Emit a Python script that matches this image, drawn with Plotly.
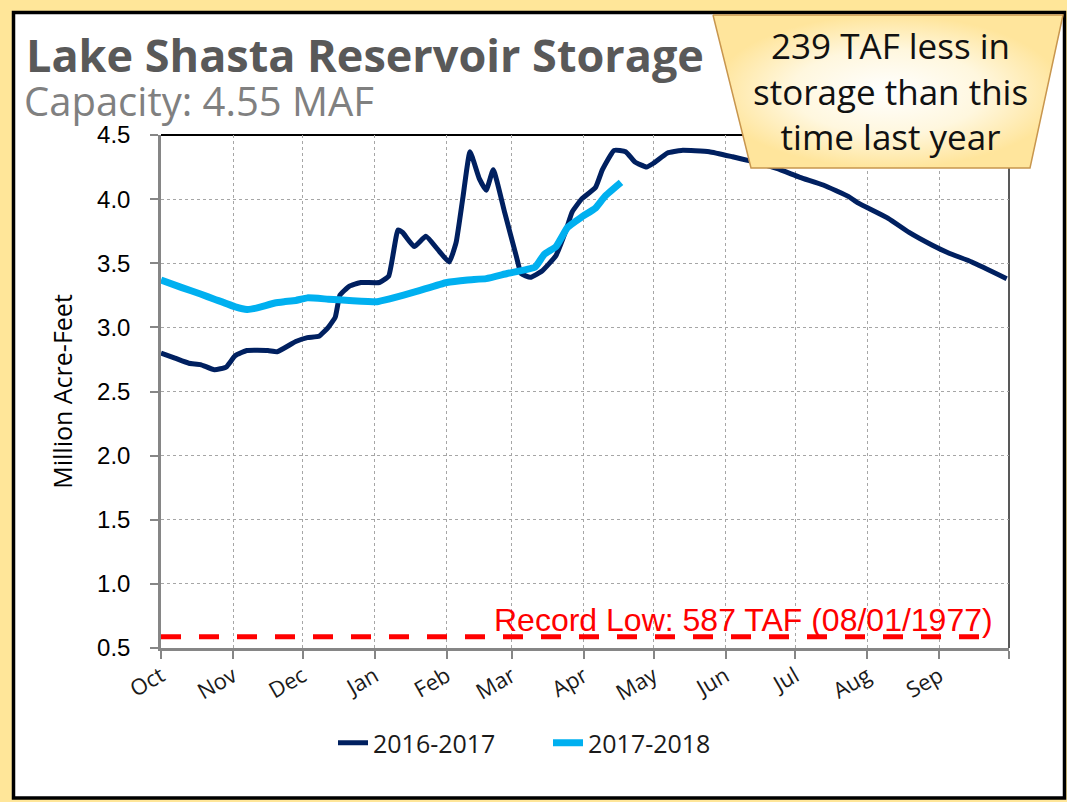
import plotly.graph_objects as go

W, H = 1067, 802

# ---------------- text ----------------
TITLE = "Lake Shasta Reservoir Storage"
SUBTITLE = "Capacity: 4.55 MAF"
CALLOUT = "239 TAF less in<br>storage than this<br>time last year"
Y_TITLE = "Million Acre-Feet"
RECORD_LOW_LABEL = "Record Low: 587 TAF (08/01/1977)"

# ---------------- data ----------------
MONTH_TICKS = ["10-01", "11-01", "12-01", "01-01", "02-01", "03-01",
               "04-01", "05-01", "06-01", "07-01", "08-01", "09-01"]
MONTH_LABELS = ["Oct", "Nov", "Dec", "Jan", "Feb", "Mar",
                "Apr", "May", "Jun", "Jul", "Aug", "Sep"]

RECORD_LOW = 0.587          # MAF
RECORD_LOW_SPAN = ["10-01", "09-24"]

WY1617_DAYS = ["10-01", "10-07", "10-13", "10-18", "10-24", "10-29", "11-02", "11-07",
               "11-16", "11-20", "11-28", "12-03", "12-08", "12-12", "12-15", "12-17",
               "12-21", "12-26", "01-03", "01-07", "01-11", "01-13", "01-18", "01-23",
               "01-28", "02-02", "02-05", "02-08", "02-11", "02-15", "02-18", "02-21",
               "02-26", "03-03", "03-05", "03-09", "03-14", "03-20", "03-24", "03-27",
               "03-31", "04-06", "04-09", "04-14", "04-19", "04-23", "04-28", "05-01",
               "05-07", "05-13", "05-25", "06-04", "06-11", "06-23", "07-03", "07-13",
               "07-24", "07-28", "08-10", "08-19", "08-29", "09-05", "09-15", "09-30"]
WY1617_MAF = [2.80, 2.76, 2.72, 2.71, 2.67, 2.69, 2.78, 2.82,
              2.82, 2.81, 2.89, 2.92, 2.93, 3.00, 3.08, 3.25,
              3.32, 3.35, 3.35, 3.40, 3.76, 3.74, 3.63, 3.71,
              3.61, 3.51, 3.66, 4.02, 4.37, 4.16, 4.07, 4.23,
              3.89, 3.55, 3.42, 3.39, 3.44, 3.56, 3.74, 3.90,
              4.00, 4.09, 4.23, 4.38, 4.37, 4.29, 4.25, 4.28,
              4.36, 4.38, 4.37, 4.33, 4.30, 4.24, 4.17, 4.11,
              4.02, 3.97, 3.85, 3.74, 3.64, 3.58, 3.51, 3.38]

WY1718_DAYS = ["10-01", "10-10", "10-18", "10-24", "11-02", "11-07", "11-11", "11-19",
               "11-23", "11-28", "12-03", "12-12", "12-21", "01-02", "01-07", "01-19",
               "02-01", "02-10", "02-18", "02-27", "03-11", "03-15", "03-20", "03-25",
               "03-31", "04-06", "04-10", "04-17"]
WY1718_MAF = [3.37, 3.31, 3.26, 3.22, 3.16, 3.14, 3.15, 3.19,
              3.20, 3.21, 3.23, 3.22, 3.21, 3.20, 3.22, 3.28,
              3.35, 3.37, 3.38, 3.42, 3.47, 3.57, 3.63, 3.78,
              3.86, 3.93, 4.02, 4.13]

SERIES_NAMES = ["2016-2017", "2017-2018"]
SERIES_COLORS = ["#002060", "#00B0F0"]


def wy_date(md):
    """Place a month-day on a common water-year axis (Oct..Sep)."""
    year = 2016 if int(md[:2]) >= 10 else 2017
    return f"{year}-{md}"


def fx(px):
    return px / W


def fy(py):
    return 1 - py / H


GOTHIC = "Open Sans"
SANS = "Liberation Sans"

fig = go.Figure()

# record low dashed line
fig.add_trace(go.Scatter(
    x=[wy_date(d) for d in RECORD_LOW_SPAN], y=[RECORD_LOW] * 2,
    mode="lines", line=dict(color="#FF0000", width=5, dash="20px,18px"),
    showlegend=False, hoverinfo="skip"))

fig.add_trace(go.Scatter(
    x=[wy_date(d) for d in WY1617_DAYS], y=WY1617_MAF, name=SERIES_NAMES[0],
    mode="lines", line=dict(color=SERIES_COLORS[0], width=5, shape="spline", smoothing=0.4)))

fig.add_trace(go.Scatter(
    x=[wy_date(d) for d in WY1718_DAYS], y=WY1718_MAF, name=SERIES_NAMES[1],
    mode="lines", line=dict(color=SERIES_COLORS[1], width=7, shape="spline", smoothing=0.4)))

# callout box (on a full-figure overlay axis so it can sit over the plot border)
fig.add_trace(go.Scatter(
    x=[713, 1063, 1030, 751, 713], y=[15, 15, 168, 168, 15],
    xaxis="x2", yaxis="y2", mode="lines", fill="toself",
    fillgradient=dict(type="radial",
                      colorscale=[[0, "#FFFFFF"], [0.55, "#FFF7DE"], [1, "#FFE59C"]]),
    line=dict(color="#C8964E", width=1.5),
    showlegend=False, hoverinfo="skip"))

tickvals = [wy_date(d) for d in MONTH_TICKS] + ["2017-10-01"]
ticktext = MONTH_LABELS + [""]

fig.update_layout(
    width=W, height=H,
    margin=dict(l=0, r=0, t=0, b=0, pad=0, autoexpand=False),
    paper_bgcolor="#FFE699",
    plot_bgcolor="rgba(0,0,0,0)",
    font=dict(family=GOTHIC, color="#000000"),
    xaxis=dict(
        domain=[fx(161), fx(1009)], type="date", automargin=False,
        range=["2016-10-01", "2017-10-01"],
        tickmode="array", tickvals=tickvals, ticktext=ticktext,
        tickangle=-30, tickfont=dict(family=GOTHIC, size=22, color="#1a1a1a"),
        ticks="outside", ticklen=8, tickcolor="#868686", tickwidth=1.5,
        ticklabelstandoff=-4,
        showline=True, linecolor="#868686", linewidth=2.5,
        showgrid=True, gridcolor="#A6A6A6", gridwidth=1, griddash="dot",
        zeroline=False, fixedrange=True),
    yaxis=dict(
        domain=[fy(648), fy(135)], range=[0.5, 4.5], dtick=0.5, tick0=0.5,
        automargin=False,
        tickformat=".1f", tickfont=dict(family=SANS, size=24, color="#000000"),
        ticks="outside", ticklen=8, tickcolor="#868686", tickwidth=1.5,
        ticklabelstandoff=15,
        showline=True, linecolor="#868686", linewidth=2.5,
        showgrid=True, gridcolor="#A6A6A6", gridwidth=1, griddash="dot",
        zeroline=False, fixedrange=True,
        title=dict(text=Y_TITLE, font=dict(family=GOTHIC, size=25, color="#000000"),
                   standoff=18)),
    xaxis2=dict(domain=[0, 1], range=[0, W], visible=False, anchor="y2",
                fixedrange=True, automargin=False),
    yaxis2=dict(domain=[0, 1], range=[H, 0], visible=False, anchor="x2",
                fixedrange=True, automargin=False),
    legend=dict(orientation="h", x=fx(548), xanchor="center", y=fy(743), yanchor="middle",
                font=dict(family=GOTHIC, size=25, color="#1a1a1a"),
                bgcolor="rgba(0,0,0,0)", itemwidth=30, entrywidth=170,
                traceorder="normal"),
    shapes=[
        dict(type="rect", xref="paper", yref="paper", layer="below",
             x0=fx(13.5), x1=fx(1064.5), y0=fy(798), y1=fy(12.5),
             fillcolor="#FFFFFF", line=dict(color="#000000", width=3.5)),
        dict(type="line", xref="paper", yref="paper", layer="below",
             x0=fx(161), x1=fx(1009), y0=fy(135), y1=fy(135),
             line=dict(color="#000000", width=2)),
        dict(type="line", xref="paper", yref="paper", layer="below",
             x0=fx(1009), x1=fx(1009), y0=fy(135), y1=fy(648),
             line=dict(color="#595959", width=2)),
    ],
    annotations=[
        dict(text=f"<b>{TITLE}</b>", xref="paper", yref="paper", x=fx(24), y=fy(54),
             xanchor="left", yanchor="middle", showarrow=False,
             font=dict(family=GOTHIC, size=45, color="#595959")),
        dict(text=SUBTITLE, xref="paper", yref="paper", x=fx(22), y=fy(100),
             xanchor="left", yanchor="middle", showarrow=False,
             font=dict(family=GOTHIC, size=40, color="#808080")),
        dict(text=CALLOUT, xref="paper", yref="paper", x=fx(890), y=fy(91),
             xanchor="center", yanchor="middle", showarrow=False, align="center",
             font=dict(family=GOTHIC, size=35, color="#111111")),
        dict(text=RECORD_LOW_LABEL, xref="paper", yref="paper", x=fx(995), y=fy(620),
             xanchor="right", yanchor="middle", showarrow=False,
             font=dict(family=SANS, size=32, color="#FF0000")),
    ],
)

fig.write_html("out.html",
               config={"displayModeBar": False},
               post_script="document.body.style.margin='0px';"
                           "document.body.style.overflow='hidden';")
